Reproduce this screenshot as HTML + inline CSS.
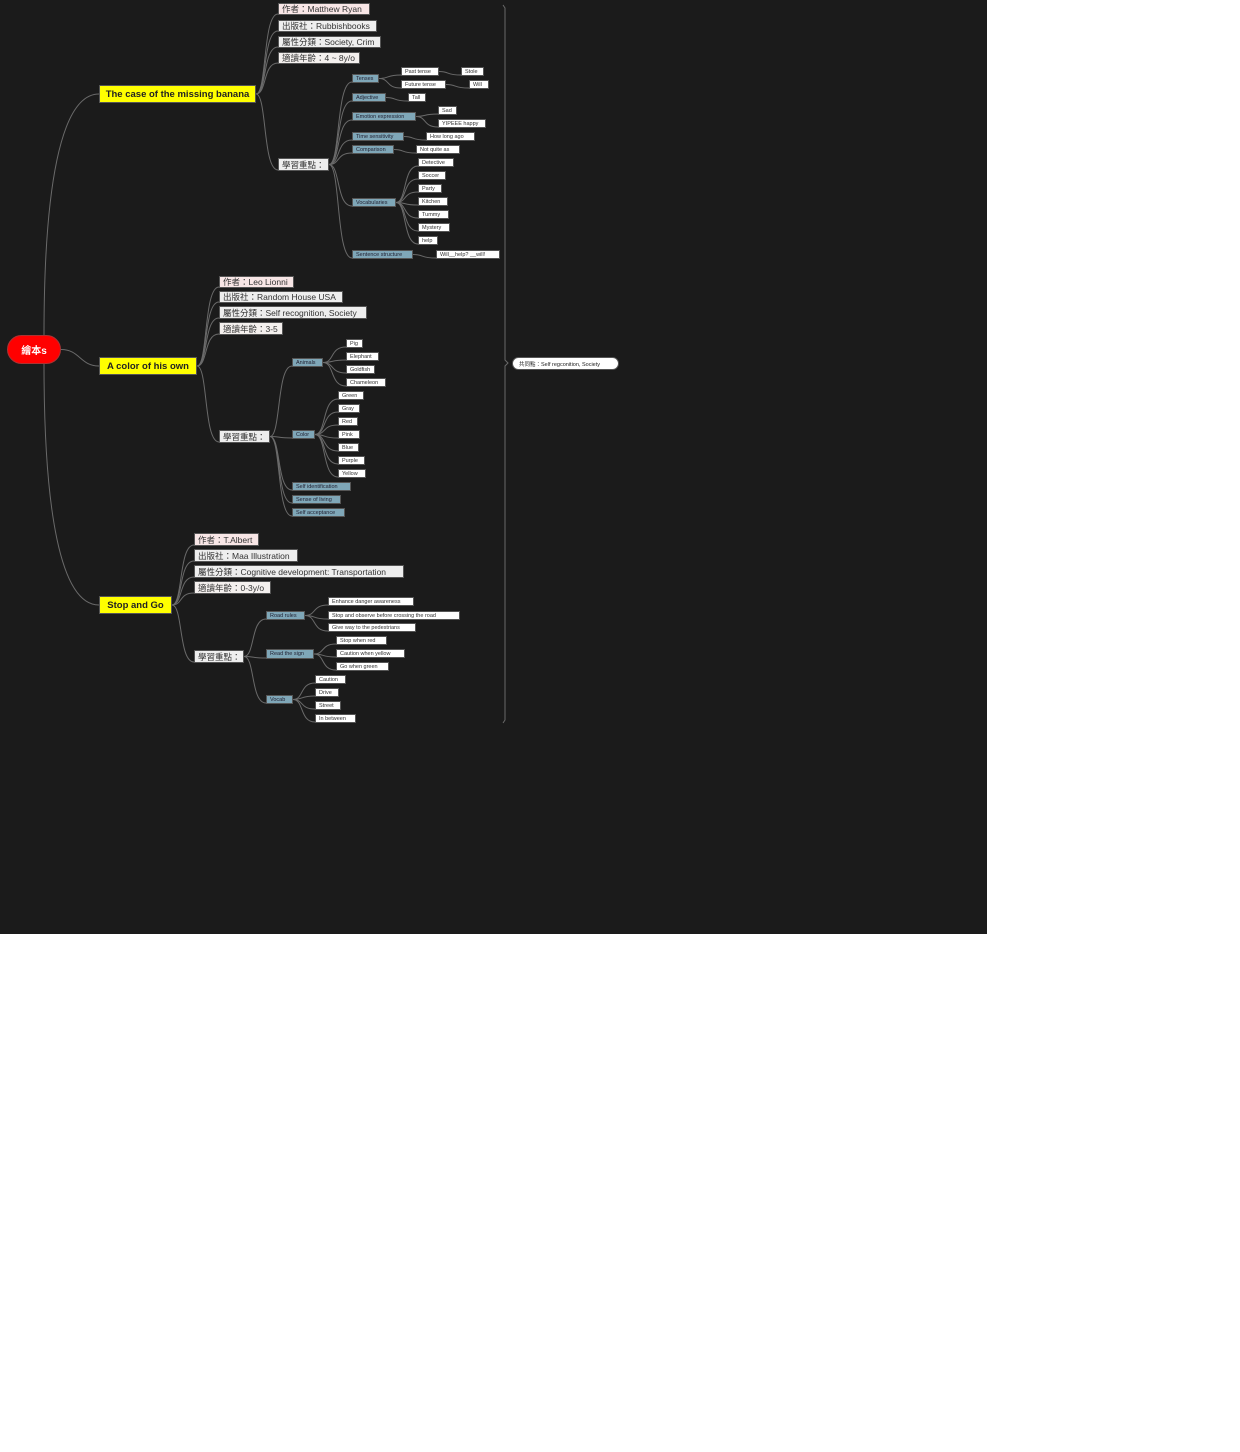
<!DOCTYPE html>
<html><head><meta charset="utf-8"><style>
body{margin:0;width:1240px;height:1452px;background:#fff;position:relative;overflow:hidden;font-family:"Liberation Sans","Noto Sans CJK TC",sans-serif}
#bg{position:absolute;left:0;top:0;width:987px;height:934px;background:#1b1b1b}
.b{position:absolute;box-sizing:border-box;white-space:nowrap;display:flex;align-items:center;padding-left:3px;border:1px solid #555;color:#333}
.m{background:#ff0;font-weight:bold;font-size:9.5px;justify-content:center;padding:0;color:#222}
.i{background:#eee;font-size:8.5px;height:12px}
.p{background:#f8e6e6}
.s{background:#7fa7b8;font-size:5.5px;height:9px;color:#223}
.l{background:#fff;font-size:5.5px;height:9px}
svg{position:absolute;left:0;top:0}
</style></head><body>
<div id="bg"></div>
<svg id="sv" width="1240" height="1452"></svg>
<div class="b" id="root" style="left:7px;top:335px;width:54px;height:29px;border-radius:15px;background:#f00;color:#fff;font-weight:bold;font-size:10px;justify-content:center;padding:0;border-color:#a33">繪本s</div>
<div class="b m" id="m1" style="left:99px;top:85px;width:157px;height:18px">The case of the missing banana</div>
<div class="b m" id="m2" style="left:99px;top:357px;width:98px;height:18px">A color of his own</div>
<div class="b m" id="m3" style="left:99px;top:596px;width:73px;height:18px">Stop and Go</div>

<div class="b i p" id="a1" style="left:278px;top:3px;width:92px">作者：Matthew Ryan</div>
<div class="b i" id="a2" style="left:278px;top:20px;width:99px">出版社：Rubbishbooks</div>
<div class="b i" id="a3" style="left:278px;top:36px;width:103px">屬性分類：Society, Crim</div>
<div class="b i" id="a4" style="left:278px;top:52px;width:82px;background:#f4f0ee">適讀年齡：4 ~ 8y/o</div>
<div class="b i" id="a5" style="left:278px;top:158px;width:51px;height:13px">學習重點：</div>
<div class="b s" id="s1" style="left:352px;top:74px;width:27px">Tenses</div>
<div class="b s" id="s2" style="left:352px;top:93px;width:34px">Adjective</div>
<div class="b s" id="s3" style="left:352px;top:112px;width:64px">Emotion expression</div>
<div class="b s" id="s4" style="left:352px;top:132px;width:52px">Time sensitivity</div>
<div class="b s" id="s5" style="left:352px;top:145px;width:42px">Comparison</div>
<div class="b s" id="s6" style="left:352px;top:198px;width:44px">Vocabularies</div>
<div class="b s" id="s7" style="left:352px;top:250px;width:61px">Sentence structure</div>
<div class="b l" id="t1" style="left:401px;top:67px;width:38px">Past tense</div>
<div class="b l" id="t2" style="left:461px;top:67px;width:23px">Stole</div>
<div class="b l" id="t3" style="left:401px;top:80px;width:45px">Future tense</div>
<div class="b l" id="t4" style="left:469px;top:80px;width:20px">Will</div>
<div class="b l" id="t5" style="left:408px;top:93px;width:18px">Tall</div>
<div class="b l" id="t6" style="left:438px;top:106px;width:19px">Sad</div>
<div class="b l" id="t7" style="left:438px;top:119px;width:48px">YIPEEE happy</div>
<div class="b l" id="t8" style="left:426px;top:132px;width:49px">How long ago</div>
<div class="b l" id="t9" style="left:416px;top:145px;width:44px">Not quite as</div>
<div class="b l" id="v1" style="left:418px;top:158px;width:36px">Detective</div>
<div class="b l" id="v2" style="left:418px;top:171px;width:28px">Soccer</div>
<div class="b l" id="v3" style="left:418px;top:184px;width:24px">Party</div>
<div class="b l" id="v4" style="left:418px;top:197px;width:30px">Kitchen</div>
<div class="b l" id="v5" style="left:418px;top:210px;width:31px">Tummy</div>
<div class="b l" id="v6" style="left:418px;top:223px;width:32px">Mystery</div>
<div class="b l" id="v7" style="left:418px;top:236px;width:20px">help</div>
<div class="b l" id="v8" style="left:436px;top:250px;width:64px">Will__help? __will!</div>

<div class="b i p" id="b1" style="left:219px;top:276px;width:75px">作者：Leo Lionni</div>
<div class="b i" id="b2" style="left:219px;top:291px;width:124px">出版社：Random House USA</div>
<div class="b i" id="b3" style="left:219px;top:306px;width:148px;height:13px">屬性分類：Self recognition, Society</div>
<div class="b i" id="b4" style="left:219px;top:322px;width:64px;height:13px;background:#f4f0ee">適讀年齡：3-5</div>
<div class="b i" id="b5" style="left:219px;top:430px;width:51px;height:13px">學習重點：</div>
<div class="b s" id="c1" style="left:292px;top:358px;width:31px">Animals</div>
<div class="b s" id="c2" style="left:292px;top:430px;width:23px">Color</div>
<div class="b s" id="c3" style="left:292px;top:482px;width:59px">Self identification</div>
<div class="b s" id="c4" style="left:292px;top:495px;width:49px">Sense of living</div>
<div class="b s" id="c5" style="left:292px;top:508px;width:53px">Self acceptance</div>
<div class="b l" id="d1" style="left:346px;top:339px;width:17px">Pig</div>
<div class="b l" id="d2" style="left:346px;top:352px;width:33px">Elephant</div>
<div class="b l" id="d3" style="left:346px;top:365px;width:29px">Goldfish</div>
<div class="b l" id="d4" style="left:346px;top:378px;width:40px">Chameleon</div>
<div class="b l" id="e1" style="left:338px;top:391px;width:26px">Green</div>
<div class="b l" id="e2" style="left:338px;top:404px;width:22px">Gray</div>
<div class="b l" id="e3" style="left:338px;top:417px;width:20px">Red</div>
<div class="b l" id="e4" style="left:338px;top:430px;width:22px">Pink</div>
<div class="b l" id="e5" style="left:338px;top:443px;width:21px">Blue</div>
<div class="b l" id="e6" style="left:338px;top:456px;width:27px">Purple</div>
<div class="b l" id="e7" style="left:338px;top:469px;width:28px">Yellow</div>

<div class="b i p" id="f1" style="left:194px;top:533px;width:65px;height:13px">作者：T.Albert</div>
<div class="b i" id="f2" style="left:194px;top:549px;width:104px;height:13px">出版社：Maa Illustration</div>
<div class="b i" id="f3" style="left:194px;top:565px;width:210px;height:13px">屬性分類：Cognitive development: Transportation</div>
<div class="b i" id="f4" style="left:194px;top:581px;width:77px;height:13px;background:#f4f0ee">適讀年齡：0-3y/o</div>
<div class="b i" id="f5" style="left:194px;top:650px;width:50px;height:13px">學習重點：</div>
<div class="b s" id="g1" style="left:266px;top:611px;width:39px">Road rules</div>
<div class="b s" id="g2" style="left:266px;top:649px;width:48px;height:10px">Read the sign</div>
<div class="b s" id="g3" style="left:266px;top:695px;width:27px">Vocab</div>
<div class="b l" id="h1" style="left:328px;top:597px;width:86px">Enhance danger awareness</div>
<div class="b l" id="h2" style="left:328px;top:611px;width:132px">Stop and observe before crossing the road</div>
<div class="b l" id="h3" style="left:328px;top:623px;width:88px">Give way to the pedestrians</div>
<div class="b l" id="h4" style="left:336px;top:636px;width:51px">Stop when red</div>
<div class="b l" id="h5" style="left:336px;top:649px;width:69px">Caution when yellow</div>
<div class="b l" id="h6" style="left:336px;top:662px;width:53px">Go when green</div>
<div class="b l" id="k1" style="left:315px;top:675px;width:31px">Caution</div>
<div class="b l" id="k2" style="left:315px;top:688px;width:24px">Drive</div>
<div class="b l" id="k3" style="left:315px;top:701px;width:26px">Street</div>
<div class="b l" id="k4" style="left:315px;top:714px;width:41px">In between</div>

<div class="b l" style="left:512px;top:357px;width:107px;height:13px;border-radius:7px;font-size:5.5px;padding-left:6px;color:#222">共同點：Self regconition, Society</div>

<script>
var sv=document.getElementById('sv'),NS='http://www.w3.org/2000/svg';
function g(id){var e=document.getElementById(id);return{l:e.offsetLeft,t:e.offsetTop,r:e.offsetLeft+e.offsetWidth,b:e.offsetTop+e.offsetHeight,m:e.offsetTop+e.offsetHeight/2};}
function path(d){var p=document.createElementNS(NS,'path');p.setAttribute('d',d);p.setAttribute('fill','none');p.setAttribute('stroke','#6a6a6a');p.setAttribute('stroke-width','1');sv.appendChild(p);}
function link(a,b,under){var A=g(a),B=g(b);var x1=A.r,y1=A.m,x2=B.l,y2=under?B.b-1:B.m;var dx=(x2-x1);path('M'+x1+','+y1+' C'+(x1+dx*0.5)+','+y1+' '+(x1+dx*0.3)+','+y2+' '+x2+','+y2);}
var L=[['m1',['a1','a2','a3','a4','a5']],['a5',['s1','s2','s3','s4','s5','s6','s7']],['s1',['t1','t3']],['t1',['t2']],['t3',['t4']],['s2',['t5']],['s3',['t6','t7']],['s4',['t8']],['s5',['t9']],['s6',['v1','v2','v3','v4','v5','v6','v7']],['s7',['v8']],
['m2',['b1','b2','b3','b4','b5']],['b5',['c1','c2','c3','c4','c5']],['c1',['d1','d2','d3','d4']],['c2',['e1','e2','e3','e4','e5','e6','e7']],
['m3',['f1','f2','f3','f4','f5']],['f5',['g1','g2','g3']],['g1',['h1','h2','h3']],['g2',['h4','h5','h6']],['g3',['k1','k2','k3','k4']]];
L.forEach(function(x){x[1].forEach(function(c){link(x[0],c,true);});});
var R=g('root');
['m1','m2','m3'].forEach(function(id){var B=g(id);var x2=B.l,y2=B.m;
if(id=='m2'){path('M'+R.r+','+R.m+' C80,'+R.m+' 80,'+y2+' '+x2+','+y2);}
else{var y1=id=='m1'?R.t:R.b;path('M44,'+y1+' C44,'+(y1+(y2-y1)*0.6)+' 60,'+y2+' '+x2+','+y2);}});
path('M503,5 L505,8 L505,360 L508,363 L505,366 L505,720 L503,723');
</script>
</body></html>
